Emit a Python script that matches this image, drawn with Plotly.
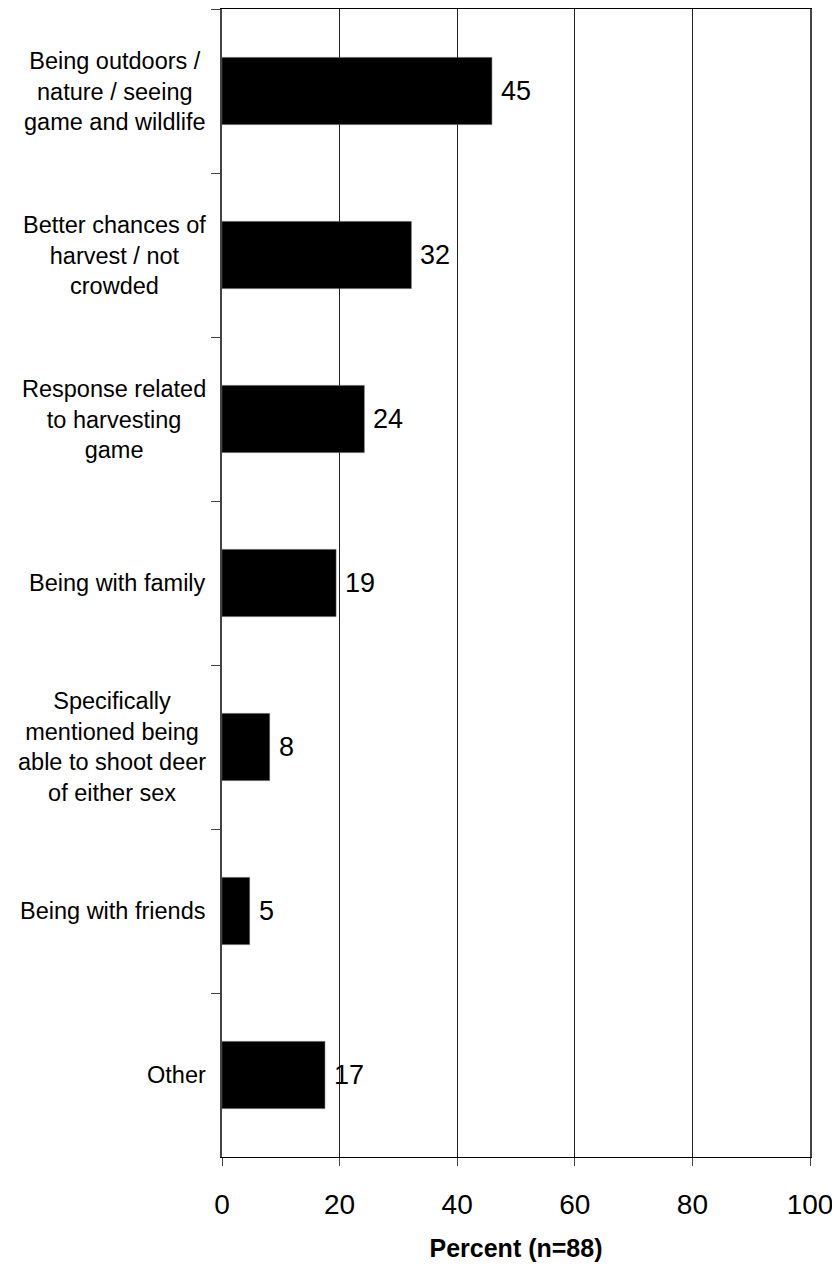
import plotly.graph_objects as go

categories = [
    "Being outdoors /<br>nature / seeing<br>game and wildlife",
    "Better chances of<br>harvest / not<br>crowded",
    "Response related<br>to harvesting<br>game",
    "Being with family",
    "Specifically<br>mentioned being<br>able to shoot deer<br>of either sex",
    "Being with friends",
    "Other",
]
values = [45.9, 32.2, 24.2, 19.4, 8.1, 4.7, 17.5]
value_labels = ["45", "32", "24", "19", "8", "5", "17"]
x_ticks = [0, 20, 40, 60, 80, 100]

FONT = "Liberation Sans, Arial, sans-serif"

fig = go.Figure()
fig.add_trace(go.Bar(
    x=values, y=categories, orientation="h",
    marker=dict(color="black", line=dict(color="#555555", width=0.5)),
    width=0.41, showlegend=False, hoverinfo="skip",
))

annotations = []
for cat, v, lab in zip(categories, values, value_labels):
    annotations.append(dict(
        x=v, y=cat, xref="x", yref="y", text=lab, showarrow=False,
        xanchor="left", yanchor="middle", xshift=7,
        font=dict(family=FONT, size=27, color="black"),
    ))
    annotations.append(dict(
        x=0, y=cat, xref="paper", yref="y", text=cat, showarrow=False,
        xanchor="right", yanchor="middle", xshift=-14, align="center",
        font=dict(family=FONT, size=23.5, color="black"),
    ))

fig.update_layout(
    width=832, height=1260,
    margin=dict(l=214, r=30, t=1, b=111),
    plot_bgcolor="white", paper_bgcolor="white",
    bargap=0.59,
    annotations=annotations,
    font=dict(family=FONT, color="black"),
)
fig.update_xaxes(
    range=[0, 100], tickvals=x_ticks, ticktext=[str(t) for t in x_ticks],
    showgrid=True, gridcolor="#222222", gridwidth=1,
    showline=True, linecolor="black", linewidth=1, mirror=True,
    ticks="outside", ticklen=8, tickcolor="#444444",
    tickfont=dict(family=FONT, size=28, color="black"),
    ticklabelstandoff=14,
    title=dict(text="<b>Percent (n=88)</b>", font=dict(family=FONT, size=25, color="black"), standoff=20),
    zeroline=False, fixedrange=True,
)
fig.update_yaxes(
    categoryorder="array", categoryarray=categories, autorange="reversed",
    showticklabels=False, showgrid=False,
    showline=True, linecolor="#444444", linewidth=2, mirror=True,
    ticks="outside", ticklen=9, tickcolor="#444444", tickson="boundaries",
    fixedrange=True,
)

fig.write_html("out.html")
